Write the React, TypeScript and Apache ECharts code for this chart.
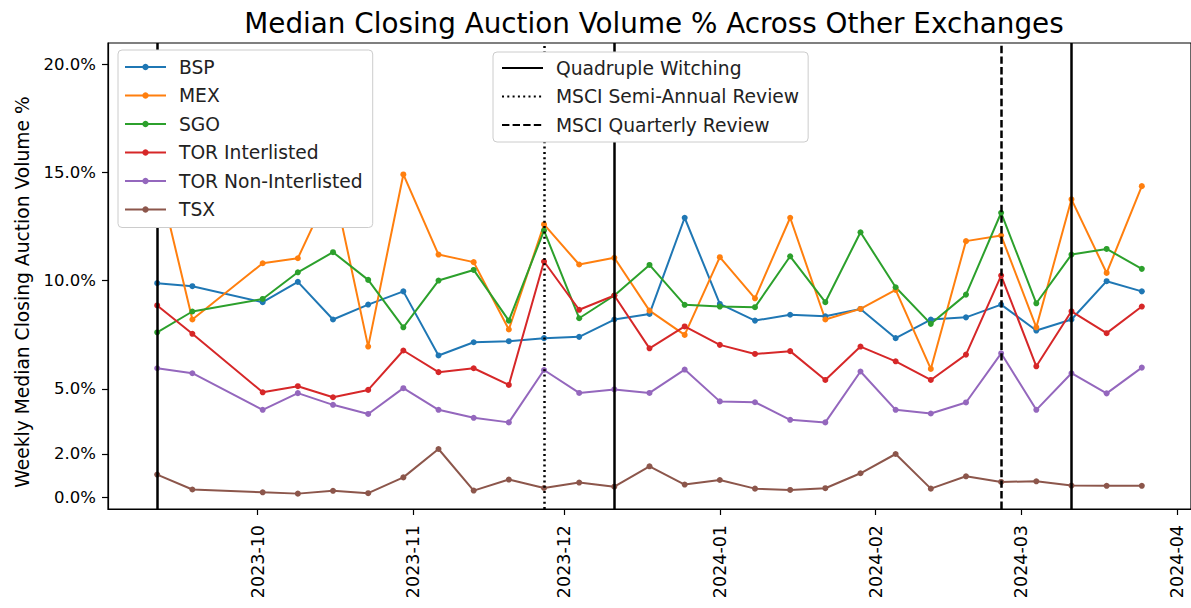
import React, { useEffect, useRef } from 'react';
import * as echarts from 'echarts';

const weeks = [
  '2023-09-11', '2023-09-18', '2023-10-02', '2023-10-09', '2023-10-16', '2023-10-23', '2023-10-30',
  '2023-11-06', '2023-11-13', '2023-11-20', '2023-11-27', '2023-12-04', '2023-12-11', '2023-12-18',
  '2023-12-25', '2024-01-01', '2024-01-08', '2024-01-15', '2024-01-22', '2024-01-29', '2024-02-05',
  '2024-02-12', '2024-02-19', '2024-02-26', '2024-03-04', '2024-03-11', '2024-03-18', '2024-03-25',
];

const bsp = [9.88, 9.74, 9.0, 9.94, 8.2, 8.89, 9.5, 6.54, 7.15, 7.2, 7.34, 7.4, 8.2, 8.46, 12.9, 8.92, 8.15, 8.42, 8.35, 8.69, 7.34, 8.2, 8.3, 8.89, 7.69, 8.2, 9.97, 9.5];
const mex = [15.0, 8.2, 10.8, 11.03, 14.5, 6.95, 14.9, 11.2, 10.85, 7.74, 12.59, 10.74, 11.05, 8.61, 7.49, 11.08, 9.18, 12.9, 8.2, 8.69, 9.57, 5.92, 11.82, 12.08, 7.84, 13.75, 10.35, 14.36];
const sgo = [7.61, 8.57, 9.15, 10.38, 11.31, 10.03, 7.84, 10.0, 10.49, 8.15, 12.31, 8.26, 9.31, 10.72, 8.88, 8.8, 8.77, 11.12, 9.0, 12.23, 9.69, 8.0, 9.35, 13.13, 8.95, 11.2, 11.46, 10.54];
const torInterlisted = [8.85, 7.54, 4.84, 5.12, 4.61, 4.95, 6.77, 5.77, 5.95, 5.18, 10.88, 8.65, 9.31, 6.87, 7.88, 7.03, 6.61, 6.74, 5.41, 6.95, 6.27, 5.41, 6.58, 10.23, 6.04, 8.58, 7.57, 8.8];
const torNonInterlisted = [5.95, 5.72, 4.03, 4.8, 4.26, 3.84, 5.03, 4.03, 3.66, 3.45, 5.87, 4.81, 4.97, 4.81, 5.89, 4.42, 4.38, 3.57, 3.45, 5.8, 4.03, 3.86, 4.37, 6.64, 4.03, 5.72, 4.79, 5.98];
const tsx = [1.04, 0.35, 0.22, 0.16, 0.29, 0.18, 0.91, 2.22, 0.3, 0.81, 0.42, 0.67, 0.48, 1.42, 0.58, 0.79, 0.39, 0.33, 0.41, 1.1, 1.99, 0.39, 0.96, 0.7, 0.73, 0.53, 0.52, 0.52];

const seriesNames = ['BSP', 'MEX', 'SGO', 'TOR Interlisted', 'TOR Non-Interlisted', 'TSX'];
const seriesValues = [bsp, mex, sgo, torInterlisted, torNonInterlisted, tsx];
const seriesColors = ['#1f77b4', '#ff7f0e', '#2ca02c', '#d62728', '#9467bd', '#8c564b'];

const quadrupleWitching = ['2023-09-11', '2023-12-11', '2024-03-11'];
const msciSemiAnnual = ['2023-11-27'];
const msciQuarterly = ['2024-02-26'];

const monthTicks = ['2023-10-01', '2023-11-01', '2023-12-01', '2024-01-01', '2024-02-01', '2024-03-01', '2024-04-01'];
const yTicks = [0, 2, 5, 10, 15, 20];

const FONT = 'DejaVu Sans';

function ts(s: string): number {
  const [y, m, d] = s.split('-').map(Number);
  return new Date(y, m - 1, d).getTime();
}

export default function App() {
  const ref = useRef<HTMLDivElement>(null);

  useEffect(() => {
    if (!ref.current) return;
    const chart = echarts.init(ref.current, undefined, { renderer: 'svg' });

    const dataSeries = seriesNames.map((name, i) => ({
      name,
      type: 'line',
      data: weeks.map((w, j) => [ts(w), seriesValues[i][j]]),
      symbol: 'circle',
      symbolSize: 6,
      showSymbol: true,
      lineStyle: { width: 2, color: seriesColors[i] },
      itemStyle: { color: seriesColors[i] },
      z: 1,
    }));

    const eventDefs = [
      { name: 'Quadruple Witching', dates: quadrupleWitching, type: 'solid' as any },
      { name: 'MSCI Semi-Annual Review', dates: msciSemiAnnual, type: [2, 3.3] as any },
      { name: 'MSCI Quarterly Review', dates: msciQuarterly, type: [7.4, 3.2] as any },
    ];

    const eventSeries = eventDefs.map((e) => ({
      name: e.name,
      type: 'line',
      data: [],
      symbol: 'none',
      lineStyle: { color: '#000', width: 2.5, type: e.type },
      itemStyle: { color: '#000' },
      z: 1,
      markLine: {
        silent: true,
        symbol: ['none', 'none'],
        label: { show: false },
        lineStyle: { color: '#000', width: 2.5, type: e.type },
        data: e.dates.map((d) => ({ xAxis: ts(d) })),
      },
    }));

    const legendCommon = {
      orient: 'vertical',
      z: 100,
      backgroundColor: '#ffffff',
      borderColor: '#cccccc',
      borderWidth: 1,
      borderRadius: 4,
      itemWidth: 41,
      itemHeight: 8,
      itemGap: 8.5,
      textStyle: { fontFamily: FONT, fontSize: 18.7, color: '#222', lineHeight: 20, padding: [0, 0, 0, 8] },
      selectedMode: false,
    };

    chart.setOption({
      animation: false,
      backgroundColor: '#ffffff',
      textStyle: { fontFamily: FONT },
      title: {
        text: 'Median Closing Auction Volume % Across Other Exchanges',
        left: 649,
        textAlign: 'center',
        top: 4,
        textStyle: { fontFamily: FONT, fontSize: 27.8, fontWeight: 'normal', color: '#000' },
      },
      grid: {
        left: 108,
        right: -3,
        top: 43,
        bottom: 99,
        show: true,
        borderColor: '#000',
        borderWidth: 1.2,
        backgroundColor: 'transparent',
      },
      legend: [
        {
          ...legendCommon,
          left: 118,
          top: 50,
          padding: [7, 10, 8, 6],
          data: seriesNames,
        },
        {
          ...legendCommon,
          left: 493,
          top: 52,
          padding: [6, 9, 7, 8],
          itemStyle: { opacity: 0 },
          data: eventDefs.map((e) => e.name),
        },
      ],
      xAxis: {
        type: 'value',
        min: new Date(2023, 8, 1, 5).getTime(),
        max: new Date(2024, 3, 3, 19).getTime(),
        splitLine: { show: false },
        axisLine: { show: true, onZero: false, lineStyle: { color: '#000', width: 1.2 } },
        axisTick: {
          show: true,
          length: 6,
          lineStyle: { color: '#000', width: 1.2 },
          customValues: monthTicks.map(ts),
        },
        axisLabel: {
          rotate: 90,
          margin: 16,
          fontFamily: FONT,
          fontSize: 17.5,
          color: '#000',
          customValues: monthTicks.map(ts),
          formatter: (v: number) => {
            const d = new Date(v);
            return d.getFullYear() + '-' + String(d.getMonth() + 1).padStart(2, '0');
          },
        },
      },
      yAxis: {
        type: 'value',
        min: -0.55,
        max: 20.97,
        splitLine: { show: false },
        axisLine: { show: true, onZero: false, lineStyle: { color: '#000', width: 1.2 } },
        axisTick: {
          show: true,
          length: 6,
          lineStyle: { color: '#000', width: 1.2 },
          customValues: yTicks,
        },
        axisLabel: {
          margin: 12,
          fontFamily: FONT,
          fontSize: 16.5,
          color: '#000',
          customValues: yTicks,
          formatter: (v: number) => v.toFixed(1) + '%',
        },
      },
      graphic: [
        {
          type: 'text',
          x: 22,
          y: 292,
          rotation: Math.PI / 2,
          style: {
            text: 'Weekly Median Closing Auction Volume %',
            fontFamily: FONT,
            fontSize: 18.7,
            fill: '#000',
            textAlign: 'center',
            textVerticalAlign: 'middle',
          },
        },
      ],
      series: [...dataSeries, ...eventSeries],
    });

    return () => chart.dispose();
  }, []);

  return (
    <div
      ref={ref}
      style={{ position: 'fixed', left: 0, top: 0, width: 1191, height: 608, background: '#fff' }}
    />
  );
}
